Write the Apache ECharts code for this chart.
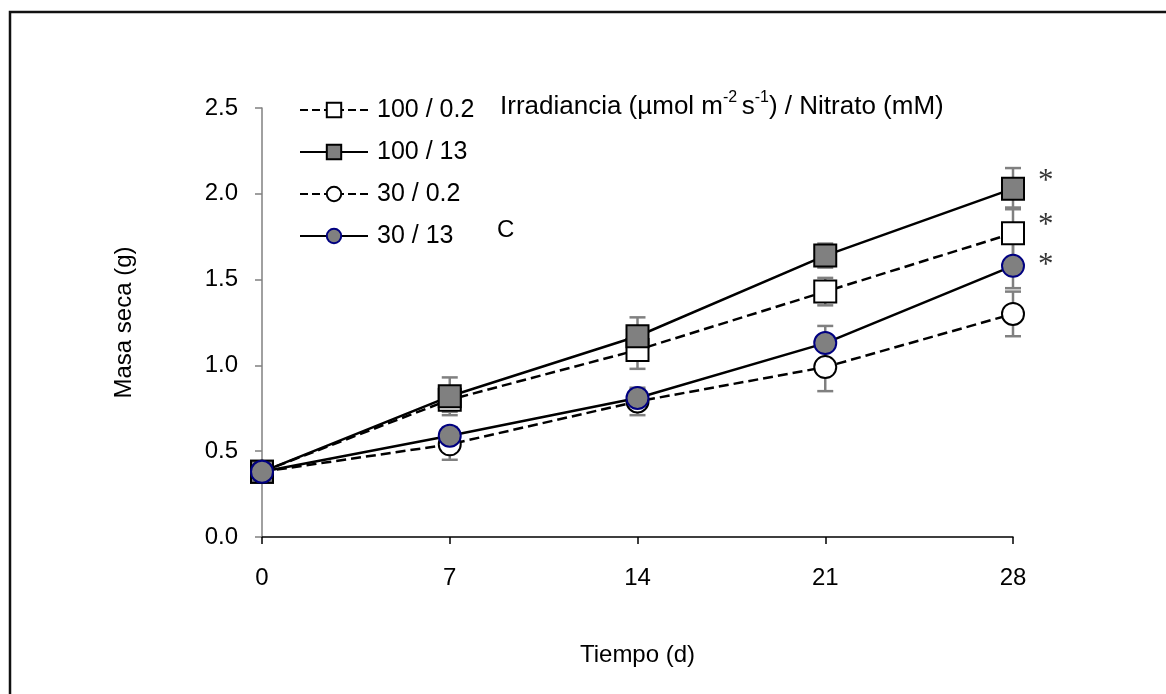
<!DOCTYPE html>
<html>
<head>
<meta charset="utf-8">
<script src="https://cdn.jsdelivr.net/npm/echarts@6/dist/echarts.min.js"></script>
<style>html,body{margin:0;padding:0;background:#fff}#c{width:1166px;height:694px}</style>
</head>
<body>
<div id="c"></div>
<script>
const days = [0, 7, 14, 21, 28];
const xTicks = [0, 7, 14, 21, 28];
const yTicks = [0, 0.5, 1.0, 1.5, 2.0, 2.5];
const seriesNames = ['100 / 0.2', '100 / 13', '30 / 0.2', '30 / 13'];
const m100_02 = [0.38, 0.80, 1.09, 1.43, 1.77];
const m100_13 = [0.38, 0.82, 1.17, 1.64, 2.03];
const m30_02  = [0.38, 0.54, 0.79, 0.99, 1.30];
const m30_13  = [0.38, 0.59, 0.81, 1.13, 1.58];
const e100_02 = [0.02, 0.07, 0.11, 0.08, 0.15];
const e100_13 = [0.02, 0.11, 0.11, 0.07, 0.12];
const e30_02  = [0.02, 0.09, 0.08, 0.14, 0.13];
const e30_13  = [0.02, 0.05, 0.05, 0.10, 0.13];
// asterisks mark significant series at day 28
const asteriskDay = 28;
const asteriskVals = [2.10, 1.84, 1.61];

const FONT = 'Liberation Sans, Arial, sans-serif';
const FS = 24;
const chart = echarts.init(document.getElementById('c'), null, {renderer: 'canvas'});

const means = [m100_02, m100_13, m30_02, m30_13];
const errs = [e100_02, e100_13, e30_02, e30_13];
const styles = [
  {symbol: 'rect', fill: '#ffffff', border: '#000000', dash: 'dashed'},
  {symbol: 'rect', fill: '#808080', border: '#000000', dash: 'solid'},
  {symbol: 'circle', fill: '#ffffff', border: '#000000', dash: 'dashed'},
  {symbol: 'circle', fill: '#808080', border: '#000080', dash: 'solid'}
];

const series = [];
// error bars
means.forEach((m, si) => {
  const data = days.map((d, i) => [d, m[i] - errs[si][i], m[i] + errs[si][i]]);
  series.push({
    type: 'custom',
    name: 'err' + si,
    z: 1,
    silent: true,
    data: data,
    renderItem: function (params, api) {
      const x = api.value(0);
      const lo = api.coord([x, api.value(1)]);
      const hi = api.coord([x, api.value(2)]);
      const w = 8;
      const st = {stroke: '#808080', lineWidth: 2.5};
      return {
        type: 'group',
        children: [
          {type: 'line', shape: {x1: lo[0], y1: lo[1], x2: hi[0], y2: hi[1]}, style: st},
          {type: 'line', shape: {x1: lo[0] - w, y1: lo[1], x2: lo[0] + w, y2: lo[1]}, style: st},
          {type: 'line', shape: {x1: hi[0] - w, y1: hi[1], x2: hi[0] + w, y2: hi[1]}, style: st}
        ]
      };
    }
  });
});
// lines
means.forEach((m, si) => {
  const s = styles[si];
  series.push({
    type: 'line',
    name: seriesNames[si],
    z: 3 + si,
    data: days.map((d, i) => [d, m[i]]),
    symbol: s.symbol,
    symbolSize: 22,
    showAllSymbol: true,
    lineStyle: {color: '#000', width: 2.5, type: s.dash},
    itemStyle: {color: s.fill, borderColor: s.border, borderWidth: 2},
    emphasis: {disabled: true},
    animation: false
  });
});
// asterisks
series.push({
  type: 'scatter',
  name: 'sig',
  z: 10,
  symbolSize: 0,
  silent: true,
  data: asteriskVals.map(v => [asteriskDay, v]),
  label: {
    show: true, formatter: '*', position: 'right', distance: 0,
    offset: [25, 5],
    fontFamily: 'Liberation Serif, Times New Roman, serif', fontSize: 31, color: '#000'
  }
});

const option = {
  backgroundColor: '#fff',
  animation: false,
  grid: {left: 262, right: 153, top: 108, bottom: 157, containLabel: false},
  xAxis: {
    type: 'value', min: 0, max: 28, interval: 7,
    name: 'Tiempo (d)', nameLocation: 'middle', nameGap: 106,
    nameTextStyle: {fontFamily: FONT, fontSize: FS, color: '#000'},
    axisLine: {show: true, lineStyle: {color: '#000', width: 1.5}},
    axisTick: {show: true, length: 7, lineStyle: {color: '#000', width: 1.5}},
    axisLabel: {fontFamily: FONT, fontSize: FS, color: '#000', margin: 29,
      formatter: v => xTicks.includes(v) ? String(v) : ''},
    splitLine: {show: false}
  },
  yAxis: {
    type: 'value', min: 0, max: 2.5, interval: 0.5,
    name: 'Masa seca (g)', nameLocation: 'middle', nameGap: 126, nameRotate: 90,
    nameTextStyle: {fontFamily: FONT, fontSize: FS, color: '#000'},
    axisLine: {show: true, lineStyle: {color: '#808080', width: 1.5}},
    axisTick: {show: true, length: 7, lineStyle: {color: '#808080', width: 1.5}},
    axisLabel: {fontFamily: FONT, fontSize: FS, color: '#000', margin: 24,
      formatter: v => yTicks.some(t => Math.abs(t - v) < 1e-9) ? v.toFixed(1) : ''},
    splitLine: {show: false}
  },
  legend: {
    data: seriesNames,
    orient: 'vertical',
    left: 294, top: 92,
    itemWidth: 68, itemHeight: 18, itemGap: 16,
    selectedMode: false,
    textStyle: {fontFamily: FONT, fontSize: 25, color: '#000', lineHeight: 26, padding: [0, 0, 0, 4]}
  },
  graphic: [
    {type: 'rect', shape: {x: 10, y: 12, width: 1200, height: 800},
      style: {fill: 'none', stroke: '#111', lineWidth: 2.5}, silent: true, z: 0},
    {type: 'text', left: 500, top: 90, z: 20,
      style: {
        text: '{n|Irradiancia (µmol m}{s|-2 }{n|s}{s|-1}{n|) / Nitrato (mM)}',
        rich: {
          n: {fontFamily: FONT, fontSize: 26, fill: '#000', verticalAlign: 'bottom', lineHeight: 30},
          s: {fontFamily: FONT, fontSize: 16, fill: '#000', verticalAlign: 'top', lineHeight: 30}
        }
      }},
    {type: 'text', left: 497, top: 218, z: 20,
      style: {text: 'C', fontFamily: FONT, fontSize: FS, fill: '#000'}}
  ],
  series: series
};
chart.setOption(option);
</script>
</body>
</html>
